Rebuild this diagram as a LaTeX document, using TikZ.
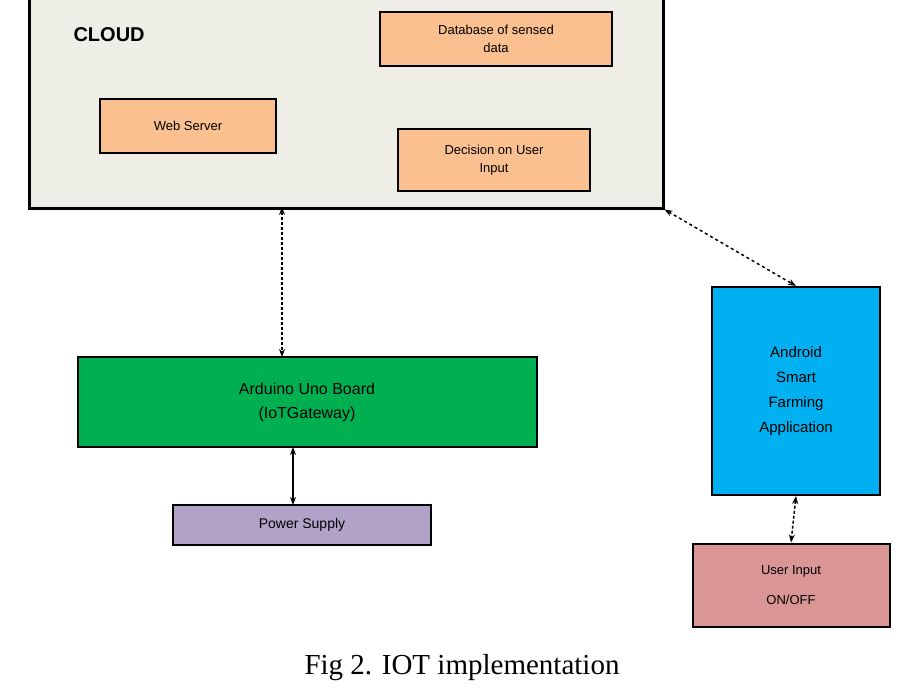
\documentclass[tikz,border=0pt]{standalone}
\usepackage{fontspec}
\setmainfont{Liberation Sans}
\newfontfamily\capfont{Liberation Serif}
\usetikzlibrary{arrows.meta}
\definecolor{cloudbg}{HTML}{EEEDE6}
\definecolor{orng}{HTML}{FAC090}
\definecolor{grn}{HTML}{00B050}
\definecolor{purp}{HTML}{B3A2C7}
\definecolor{blu}{HTML}{00B0F0}
\definecolor{pnk}{HTML}{D99694}
\begin{document}
\begin{tikzpicture}[x=1pt,y=-1pt,
 box/.style={draw=black,line width=2pt,align=center,inner sep=0pt,font=\fontsize{13}{18}\selectfont},
 dsharr/.style={densely dashed,line width=1.5pt,{Stealth[length=8pt]}-{Stealth[length=8pt]}},
 solidarr/.style={line width=2pt,{Stealth[length=8pt]}-{Stealth[length=8pt]}}]
\useasboundingbox (0,0) rectangle (923,698);
\node[draw=black,line width=2.5pt,fill=cloudbg,minimum width=634pt,minimum height=212pt,anchor=north west,inner sep=0pt] (cloud) at (28,-5) {};
\node[font=\bfseries\fontsize{20}{24}\selectfont,anchor=west] (ct) at (70,35) {CLOUD};
\node[box,fill=orng,minimum width=232pt,minimum height=54pt] (db) at (496,39) {Database of sensed\\data};
\node[box,fill=orng,minimum width=176pt,minimum height=53pt] (ws) at (188,126) {Web Server};
\node[box,fill=orng,minimum width=192pt,minimum height=61pt] (dec) at (494,160) {Decision on User\\Input};
\node[box,fill=grn,minimum width=459pt,minimum height=90pt,font=\fontsize{16}{24}\selectfont] (ard) at (307,402) {Arduino Uno Board\\(IoTGateway)};
\node[box,fill=purp,minimum width=258pt,minimum height=40pt,font=\fontsize{14}{18}\selectfont] (ps) at (302,525) {Power Supply};
\node[box,fill=blu,minimum width=168pt,minimum height=208pt,font=\fontsize{15}{25}\selectfont] (and) at (796,391) {Android\\Smart\\Farming\\Application};
\node[box,fill=pnk,minimum width=197pt,minimum height=83pt,font=\fontsize{13}{30}\selectfont] (ui) at (791,585) {User Input\\ON/OFF};
\node[font=\capfont\fontsize{29}{34}\selectfont] (cap) at (462,668) {Fig 2. IOT implementation};
\coordinate (c1) at (282,207);
\coordinate (a1) at (282,357);
\coordinate (p0) at (293,447);
\coordinate (p1) at (293,505);
\draw[dsharr] (c1) -- (a1);
\draw[dsharr,dashed] (cloud.south east) -- (and.north);
\draw[solidarr] (p0) -- (p1);
\draw[dsharr] (and.south) -- (ui.north);
\end{tikzpicture}
\end{document}
